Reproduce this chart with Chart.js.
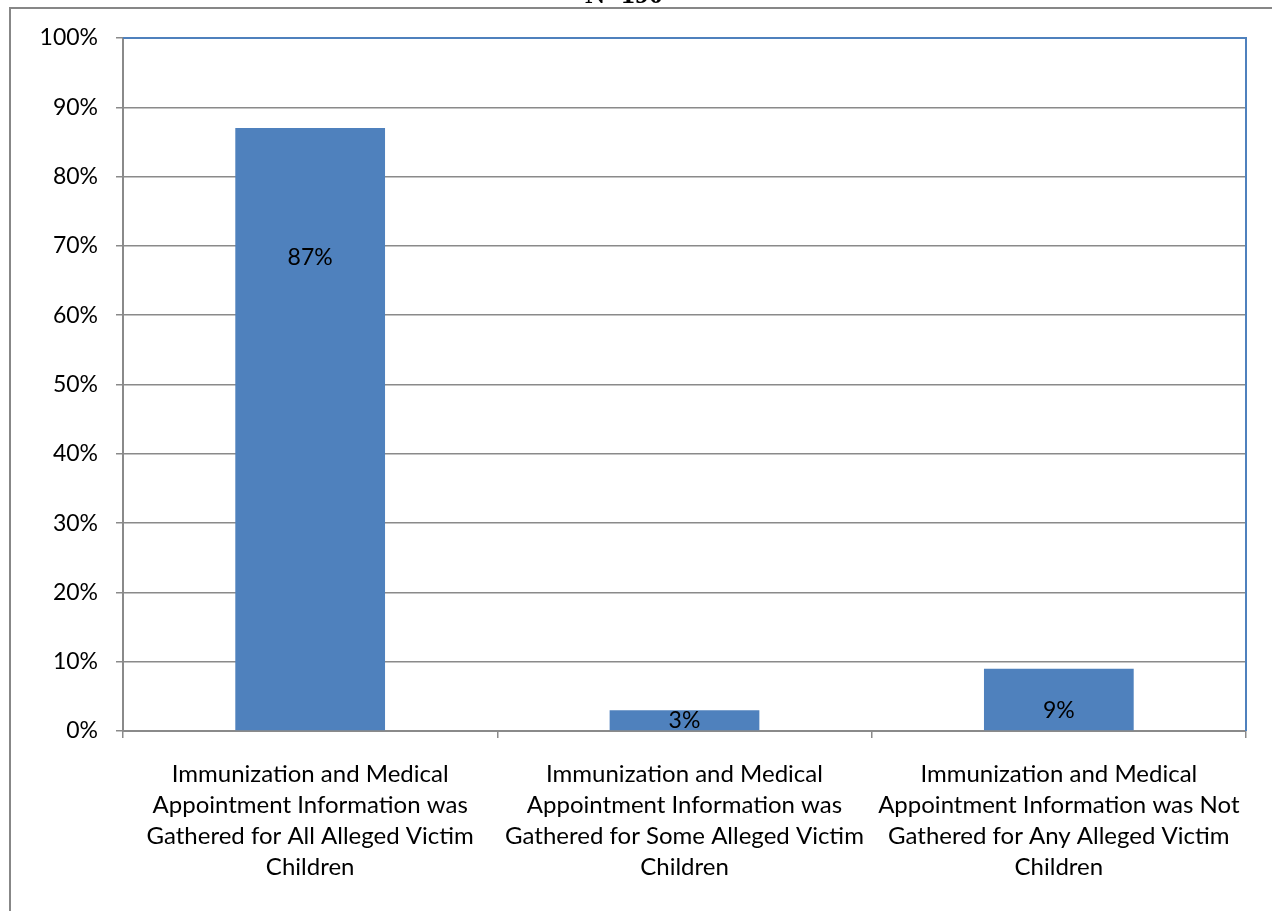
<!DOCTYPE html>
<html>
<head>
<meta charset="utf-8">
<script src="https://cdn.jsdelivr.net/npm/chart.js@4"></script>
<style>
  html, body { margin: 0; padding: 0; background: #ffffff; }
  #wrap { width: 1272px; height: 911px; position: relative; }
</style>
</head>
<body>
<div id="wrap"><canvas id="chart" width="1272" height="911"></canvas></div>
<script>
// Category labels, one line per array entry
const categories = [
  ["Immunization and Medical", "Appointment Information was", "Gathered for All Alleged Victim", "Children"],
  ["Immunization and Medical", "Appointment Information was", "Gathered for Some Alleged Victim", "Children"],
  ["Immunization and Medical", "Appointment Information was Not", "Gathered for Any Alleged Victim", "Children"]
];

// Share of cases (%)
const shares = [87, 3, 9];

// Value-axis range and step (%)
const yMin = 0;
const yMax = 100;
const yStep = 10;

const sampleNote = "N=190";

const FONT = "Lato, 'Open Sans', sans-serif";
const GRID = "#8a8a8a";
const BLUE = "#4f81bd";

// How far below each bar top its value label sits (px)
const LABEL_DROP = [129, 10, 42];

// Outer frame, plot border and the partly clipped heading
const framePlugin = {
  id: "frame",
  beforeDraw(chart) {
    const ctx = chart.ctx;
    ctx.save();
    ctx.fillStyle = "#ffffff";
    ctx.fillRect(0, 0, chart.width, chart.height);
    ctx.strokeStyle = "#878787";
    ctx.lineWidth = 2;
    ctx.strokeRect(10, 8, chart.width + 20, chart.height + 20);
    ctx.fillStyle = "#000000";
    ctx.font = "bold 28px 'Liberation Serif', 'DejaVu Serif', serif";
    ctx.textAlign = "center";
    ctx.textBaseline = "alphabetic";
    ctx.fillText(sampleNote, 624, 3);
    ctx.restore();
  },
  afterDraw(chart) {
    const { ctx, chartArea: a } = chart;
    ctx.save();
    ctx.strokeStyle = BLUE;
    ctx.lineWidth = 2;
    ctx.beginPath();
    ctx.moveTo(a.left, a.top);
    ctx.lineTo(a.right, a.top);
    ctx.lineTo(a.right, a.bottom);
    ctx.stroke();
    ctx.restore();
  }
};

// Value labels inside the bars
const valueLabelPlugin = {
  id: "valueLabels",
  afterDatasetsDraw(chart) {
    const ctx = chart.ctx;
    const meta = chart.getDatasetMeta(0);
    const values = chart.data.datasets[0].data;
    ctx.save();
    ctx.fillStyle = "#000000";
    ctx.font = "23px " + FONT;
    ctx.textAlign = "center";
    ctx.textBaseline = "middle";
    meta.data.forEach((bar, i) => {
      ctx.fillText(values[i] + "%", bar.x, bar.y + LABEL_DROP[i]);
    });
    ctx.restore();
  }
};

new Chart(document.getElementById("chart"), {
  type: "bar",
  data: {
    labels: categories,
    datasets: [{
      data: shares,
      backgroundColor: BLUE,
      borderWidth: 0,
      barPercentage: 0.4,
      categoryPercentage: 1.0
    }]
  },
  plugins: [framePlugin, valueLabelPlugin],
  options: {
    responsive: false,
    animation: false,
    events: [],
    layout: { padding: { top: 38, right: 26, left: 0, bottom: 0 } },
    plugins: {
      legend: { display: false },
      title: { display: false },
      tooltip: { enabled: false }
    },
    scales: {
      x: {
        grid: {
          offset: true,
          drawOnChartArea: false,
          drawTicks: true,
          tickLength: 7,
          color: GRID,
          lineWidth: 1.5
        },
        border: { color: GRID, width: 2 },
        ticks: {
          color: "#000000",
          font: { family: FONT, size: 24, lineHeight: 1.29 },
          padding: 21,
          maxRotation: 0,
          autoSkip: false
        },
        afterFit(scale) { scale.height = 180; }
      },
      y: {
        min: yMin,
        max: yMax,
        grid: {
          color: GRID,
          lineWidth: 1.5,
          drawTicks: true,
          tickLength: 7
        },
        border: { color: GRID, width: 2 },
        ticks: {
          stepSize: yStep,
          color: "#000000",
          font: { family: FONT, size: 23 },
          padding: 18,
          callback: (v) => v + "%"
        },
        afterFit(scale) { scale.width = 123; }
      }
    }
  }
});
</script>
</body>
</html>
